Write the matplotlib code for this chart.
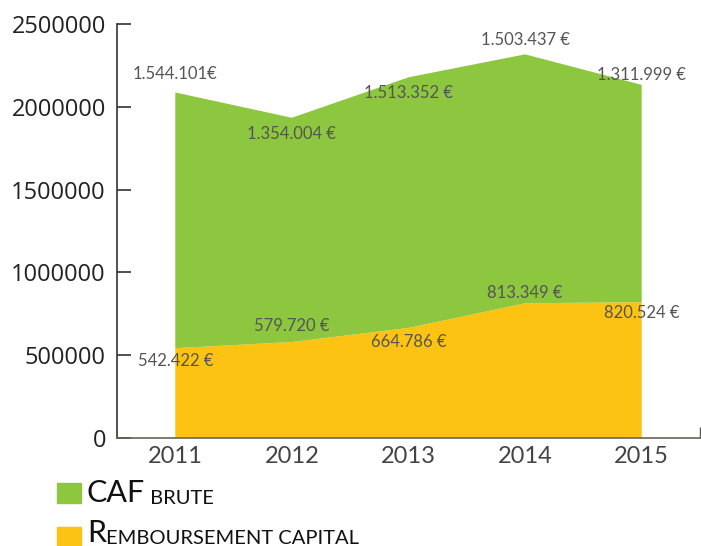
import matplotlib.pyplot as plt

# data
years = ["2011", "2012", "2013", "2014", "2015"]
caf_brute = [1544101, 1354004, 1513352, 1503437, 1311999]
remboursement = [542422, 579720, 664786, 813349, 820524]
caf_labels = ["1.544.101€", "1.354.004 €", "1.513.352 €", "1.503.437 €", "1.311.999 €"]
remb_labels = ["542.422 €", "579.720 €", "664.786 €", "813.349 €", "820.524 €"]

green = "#8DC63F"
yellow = "#FDC312"
font = "Lato"

fig = plt.figure(figsize=(7.01, 5.46), dpi=100)
ax = fig.add_axes([117 / 701, 108 / 546, 583 / 701, 414 / 546])

x = range(len(years))
ax.stackplot(x, remboursement, caf_brute, colors=[yellow, green], linewidth=0)

ax.set_xlim(-0.5, 4.5)
ax.set_ylim(0, 2500000)
ax.set_yticks(range(0, 2500001, 500000))
ax.set_yticklabels([str(v) for v in range(0, 2500001, 500000)],
                   fontsize=17, color="#222222", family="Open Sans")
ax.set_xticks(list(x))
ax.set_xticklabels(years, fontsize=17, color="#444444", family=font)
ax.set_xticks([4.5], minor=True)
ax.tick_params(axis="x", which="major", length=0, pad=6)
ax.tick_params(axis="x", which="minor", direction="in", length=8, width=1, color="#555555")
ax.tick_params(axis="y", direction="in", length=10, width=1.2, color="#333333", pad=8)

for s in ["top", "right"]:
    ax.spines[s].set_visible(False)
ax.spines["left"].set_color("#333333")
ax.spines["left"].set_linewidth(1.2)
ax.spines["bottom"].set_color("#666655")
ax.spines["bottom"].set_linewidth(1.2)

# value labels (offsets in pixels from the band edge)
caf_dy = [18, -16, -16, 14, 10]
remb_dy = [-13, 16, -14, 10, -11]
tops = [r + c for r, c in zip(remboursement, caf_brute)]
for i in x:
    ax.annotate(caf_labels[i], (i, tops[i]), xytext=(0, caf_dy[i] * 0.72),
                textcoords="offset points", ha="center", va="center",
                fontsize=12, color="#555555", family=font)
    ax.annotate(remb_labels[i], (i, remboursement[i]), xytext=(0, remb_dy[i] * 0.72),
                textcoords="offset points", ha="center", va="center",
                fontsize=12, color="#555555", family=font)

# legend
fig.patches.append(plt.Rectangle((57 / 701, 43 / 546), 24 / 701, 20 / 546,
                                 transform=fig.transFigure, color=green))
fig.patches.append(plt.Rectangle((57 / 701, 0 / 546), 24 / 701, 19 / 546,
                                 transform=fig.transFigure, color=yellow))
t1 = fig.text(87 / 701, 44 / 546, "CAF", fontsize=22, color="#111111",
              family=font, va="baseline")
ax.annotate(" BRUTE", xy=(1, 0), xycoords=t1, fontsize=14.5, color="#111111",
            family=font, va="bottom", annotation_clip=False)
t2 = fig.text(87 / 701, 4 / 546, "R", fontsize=22, color="#111111",
              family=font, va="baseline")
ax.annotate("EMBOURSEMENT CAPITAL", xy=(1, 0), xycoords=t2, fontsize=14.5,
            color="#111111", family=font, va="bottom", annotation_clip=False)

fig.savefig("out.png", dpi=100)
